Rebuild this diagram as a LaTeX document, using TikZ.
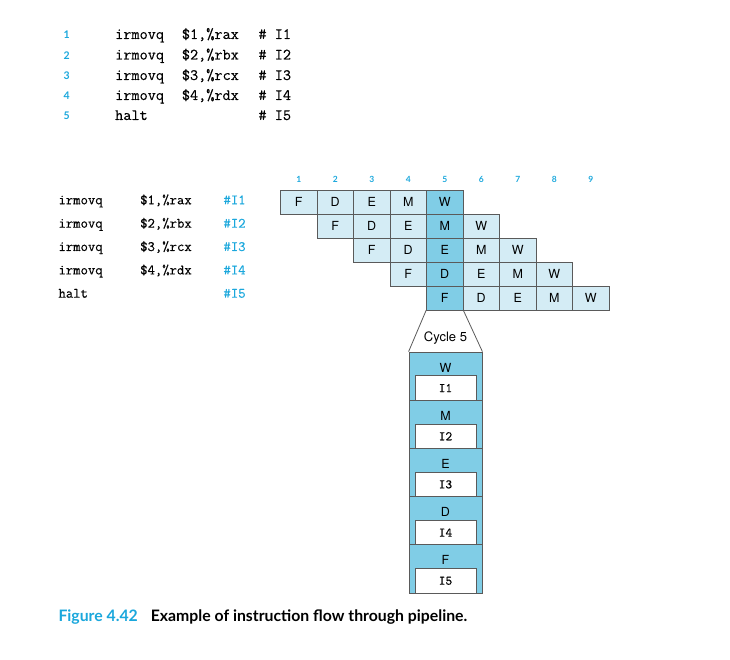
\documentclass[tikz,border=0pt]{standalone}
\usepackage{fontspec}
\setsansfont{TeX Gyre Heros}
\setmonofont{Latin Modern Mono}[FakeBold=0.3]
\newfontfamily\capfont{Lato}
\definecolor{lightblue}{HTML}{D4ECF5}
\definecolor{darkblue}{HTML}{80CDE6}
\definecolor{cyantext}{HTML}{1AA7DC}
\definecolor{linegray}{HTML}{5A5A5A}
\begin{document}
\begin{tikzpicture}
[x=1pt, y=-1pt,
 cell/.style={draw=linegray, line width=0.8pt, fill=lightblue, minimum width=36.5pt, minimum height=24pt, inner sep=0pt, font=\sffamily\fontsize{12.5}{12.5}\selectfont},
 hot/.style={cell, fill=darkblue},
 stage/.style={draw=linegray, line width=0.8pt, fill=darkblue, minimum width=73pt, minimum height=48.2pt, inner sep=0pt},
 slot/.style={draw=linegray, line width=0.8pt, fill=white, minimum width=61pt, minimum height=24.4pt, inner sep=0pt, anchor=south, font=\ttfamily\fontsize{13}{13}\selectfont},
 letter/.style={inner sep=0pt, font=\sffamily\fontsize{12.5}{12.5}\selectfont},
 code/.style={anchor=base west, inner sep=0pt, font=\ttfamily\fontsize{15.8}{15.8}\selectfont},
 listing/.style={anchor=base west, inner sep=0pt, font=\ttfamily\fontsize{14.3}{14.3}\selectfont},
 lineno/.style={anchor=base, inner sep=0pt, text=cyantext, font=\capfont\bfseries\fontsize{10.5}{10.5}\selectfont},
 cycno/.style={anchor=base, inner sep=0pt, text=cyantext, font=\capfont\bfseries\fontsize{8.5}{8.5}\selectfont}]
\useasboundingbox (0,0) rectangle (730,660);
% program
\node[lineno] (p1) at (66.7,39) {1}; \node[code] (q1) at (115,39) {irmovq}; \node[code] (r1) at (181.7,39) {\$1,\%rax}; \node[code] (k1) at (258.3,39) {\# I1};
\node[lineno] (p2) at (66.7,59.5) {2}; \node[code] (q2) at (115,59.5) {irmovq}; \node[code] (r2) at (181.7,59.5) {\$2,\%rbx}; \node[code] (k2) at (258.3,59.5) {\# I2};
\node[lineno] (p3) at (66.7,80) {3}; \node[code] (q3) at (115,80) {irmovq}; \node[code] (r3) at (181.7,80) {\$3,\%rcx}; \node[code] (k3) at (258.3,80) {\# I3};
\node[lineno] (p4) at (66.7,100) {4}; \node[code] (q4) at (115,100) {irmovq}; \node[code] (r4) at (181.7,100) {\$4,\%rdx}; \node[code] (k4) at (258.3,100) {\# I4};
\node[lineno] (p5) at (66.7,120) {5}; \node[code] (q5) at (115,120) {halt}; \node[code] (k5) at (258.3,120) {\# I5};
% instructions beside the pipeline
\node[listing] (i1) at (58.3,204.3) {irmovq}; \node[listing] (a1) at (140,204.3) {\$1,\%rax}; \node[listing, text=cyantext] (t1) at (223.3,204.3) {\#I1};
\node[listing] (i2) at (58.3,227.7) {irmovq}; \node[listing] (a2) at (140,227.7) {\$2,\%rbx}; \node[listing, text=cyantext] (t2) at (223.3,227.7) {\#I2};
\node[listing] (i3) at (58.3,251) {irmovq}; \node[listing] (a3) at (140,251) {\$3,\%rcx}; \node[listing, text=cyantext] (t3) at (223.3,251) {\#I3};
\node[listing] (i4) at (58.3,274.4) {irmovq}; \node[listing] (a4) at (140,274.4) {\$4,\%rdx}; \node[listing, text=cyantext] (t4) at (223.3,274.4) {\#I4};
\node[listing] (i5) at (58.3,297.7) {halt}; \node[listing, text=cyantext] (t5) at (223.3,297.7) {\#I5};
% clock cycles
\node[cycno] (n1) at (298.75,182.3) {1}; \node[cycno] (n2) at (335.25,182.3) {2}; \node[cycno] (n3) at (371.75,182.3) {3};
\node[cycno] (n4) at (408.25,182.3) {4}; \node[cycno] (n5) at (444.75,182.3) {5}; \node[cycno] (n6) at (481.25,182.3) {6};
\node[cycno] (n7) at (517.75,182.3) {7}; \node[cycno] (n8) at (554.25,182.3) {8}; \node[cycno] (n9) at (590.75,182.3) {9};
% pipeline
\node[cell] (c11) at (298.75,202) {F}; \node[cell] (c12) at (335.25,202) {D}; \node[cell] (c13) at (371.75,202) {E}; \node[cell] (c14) at (408.25,202) {M}; \node[hot] (c15) at (444.75,202) {W};
\node[cell] (c22) at (335.25,226) {F}; \node[cell] (c23) at (371.75,226) {D}; \node[cell] (c24) at (408.25,226) {E}; \node[hot] (c25) at (444.75,226) {M}; \node[cell] (c26) at (481.25,226) {W};
\node[cell] (c33) at (371.75,250) {F}; \node[cell] (c34) at (408.25,250) {D}; \node[hot] (c35) at (444.75,250) {E}; \node[cell] (c36) at (481.25,250) {M}; \node[cell] (c37) at (517.75,250) {W};
\node[cell] (c44) at (408.25,274) {F}; \node[hot] (c45) at (444.75,274) {D}; \node[cell] (c46) at (481.25,274) {E}; \node[cell] (c47) at (517.75,274) {M}; \node[cell] (c48) at (554.25,274) {W};
\node[hot] (c55) at (444.75,298) {F}; \node[cell] (c56) at (481.25,298) {D}; \node[cell] (c57) at (517.75,298) {E}; \node[cell] (c58) at (554.25,298) {M}; \node[cell] (c59) at (590.75,298) {W};
% cycle 5 close-up
\node[stage] (w1) at (445.5,376.1) {}; \node[letter] (l1) at ([yshift=-16pt]w1.north) {W}; \node[slot] (s1) at (w1.south) {I1};
\node[stage] (w2) at (445.5,424.3) {}; \node[letter] (l2) at ([yshift=-16pt]w2.north) {M}; \node[slot] (s2) at (w2.south) {I2};
\node[stage] (w3) at (445.5,472.5) {}; \node[letter] (l3) at ([yshift=-16pt]w3.north) {E}; \node[slot] (s3) at (w3.south) {I3};
\node[stage] (w4) at (445.5,520.7) {}; \node[letter] (l4) at ([yshift=-16pt]w4.north) {D}; \node[slot] (s4) at (w4.south) {I4};
\node[stage] (w5) at (445.5,568.9) {}; \node[letter] (l5) at ([yshift=-16pt]w5.north) {F}; \node[slot] (s5) at (w5.south) {I5};
\node[letter, font=\sffamily\fontsize{13}{13}\selectfont] (cyc) at (445.5,338) {Cycle 5};
\draw[linegray, line width=0.8pt] (c55.south west) -- (w1.north west);
\draw[linegray, line width=0.8pt] (c55.south east) -- (w1.north east);
% caption
\node[anchor=base west, inner sep=0pt, font=\capfont\bfseries\fontsize{15.8}{15.8}\selectfont] (fig) at (58.3,621) {\textcolor{cyantext}{Figure 4.42}\hspace{13pt}Example of instruction flow through pipeline.};
\end{tikzpicture}
\end{document}
